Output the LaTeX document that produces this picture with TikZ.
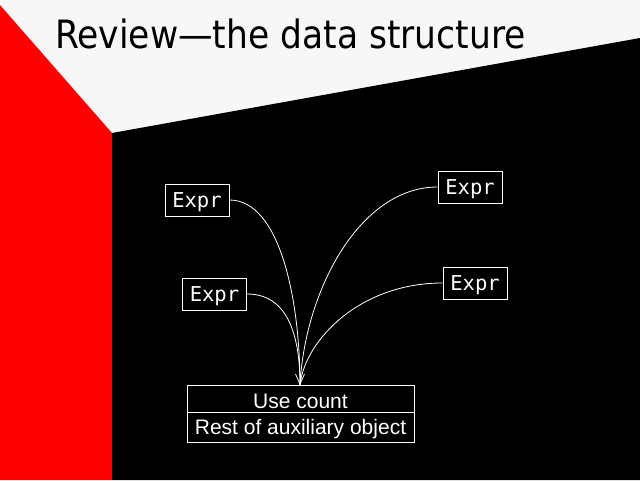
\documentclass[tikz,border=0pt]{standalone}
\usepackage{fontspec}
\usepackage{graphicx}
\setmainfont{Liberation Sans}
\newfontfamily\monof{DejaVu Sans Mono}
\newfontfamily\titlef{DejaVu Sans}
\usetikzlibrary{arrows.meta,calc}
\definecolor{paper}{HTML}{F7F7F7}
\newcommand{\lowered}[2]{\raisebox{-#1}[\height][\depth]{#2}}
\begin{document}
\begin{tikzpicture}[x=1pt,y=-1pt,
  exprbox/.style={draw=white,line width=0.9pt,text=white,minimum width=64pt,minimum height=32pt,inner sep=0pt,font=\monof\fontsize{20.5}{20.5}\selectfont},
  cellbox/.style={draw=white,line width=0.9pt,text=white,minimum width=227pt,inner sep=0pt,font=\fontsize{21}{21}\selectfont},
  link/.style={white,line width=0.8pt}]
\useasboundingbox (0,0) rectangle (640,480);
\fill[paper] (0,0) rectangle (640,480);
\fill[black] (112,133) -- (640,38) -- (640,480) -- (112,480) -- cycle;
\fill[red] (0,5) -- (112,133) -- (112,480) -- (0,480) -- cycle;
\node[anchor=base west,inner sep=0pt,font=\titlef\fontsize{39}{39}\selectfont] (title) at (55,48) {\scalebox{0.885}[1]{Review—the data structure}};
\node[exprbox] (e1) at (197,200) {\lowered{2.5pt}{Expr}};
\node[exprbox] (e2) at (214.5,294) {\lowered{2.5pt}{Expr}};
\node[exprbox] (e3) at (470,187) {\lowered{2.5pt}{Expr}};
\node[exprbox] (e4) at (475,283) {\lowered{2.5pt}{Expr}};
\node[cellbox,minimum height=27pt] (use) at (300.5,398.5) {\lowered{3pt}{Use count}};
\node[cellbox,minimum height=30pt,anchor=north] (rest) at (use.south) {\lowered{1pt}{Rest of auxiliary object}};
\coordinate (tip) at (300,385);
\draw[link] (e1.east) .. controls (280,200) and (300,300) .. (tip);
\draw[link] (e2.east) .. controls (290,294) and (300,340) .. (tip);
\draw[link] (e3.west) .. controls (360,187) and (305,290) .. (tip);
\draw[link] (e4.west) .. controls (360,283) and (305,340) .. (tip);
\draw[link,-{Straight Barb[length=10pt,width=9pt]}] ($(tip)+(0,-12)$) -- (tip);
\end{tikzpicture}
\end{document}
